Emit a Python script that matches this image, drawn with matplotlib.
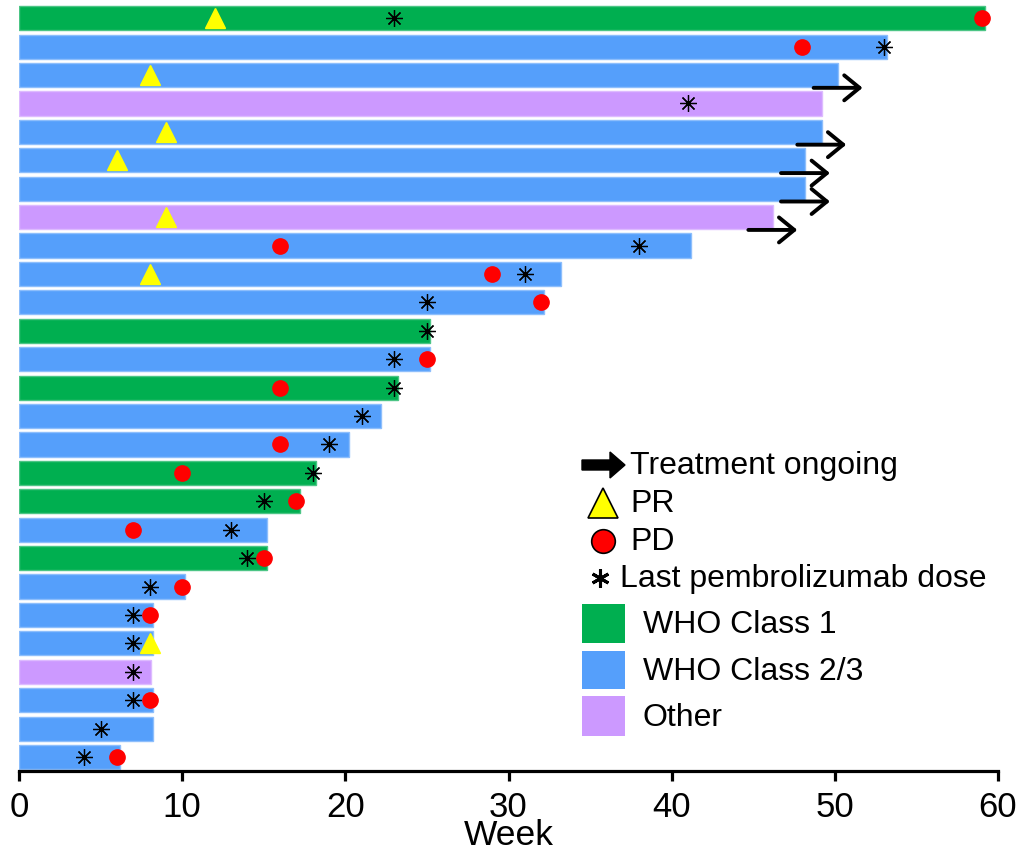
import matplotlib
matplotlib.use("Agg")
import matplotlib.pyplot as plt
from matplotlib.lines import Line2D
from matplotlib.patches import Polygon, Rectangle

plt.rcParams["font.family"] = ["Liberation Sans", "DejaVu Sans"]

# one row per patient, top to bottom
weeks_on_study = [59.2, 53.2, 50.2, 49.2, 49.2, 48.2, 48.2, 46.2, 41.2, 33.2, 32.2, 25.2, 25.2, 23.2,
                  22.2, 20.2, 18.2, 17.2, 15.2, 15.2, 10.2, 8.2, 8.2, 8.1, 8.2, 8.2, 6.2]
who_class = ["1", "2/3", "2/3", "Other", "2/3", "2/3", "2/3", "Other", "2/3", "2/3", "2/3", "1", "2/3", "1",
             "2/3", "2/3", "1", "1", "2/3", "1", "2/3", "2/3", "2/3", "Other", "2/3", "2/3", "2/3"]
pr_rows = [0, 2, 4, 5, 7, 9, 22]
pr_weeks = [12, 8, 9, 6, 9, 8, 8]
pd_rows = [0, 1, 8, 9, 10, 12, 13, 15, 16, 17, 18, 19, 20, 21, 24, 26]
pd_weeks = [59, 48, 16, 29, 32, 25, 16, 16, 10, 17, 7, 15, 10, 8, 8, 6]
dose_rows = [0, 1, 3, 8, 9, 10, 11, 12, 13, 14, 15, 16, 17, 18, 19, 20, 21, 22, 23, 24, 25, 26]
dose_weeks = [23, 53, 41, 38, 31, 25, 25, 23, 23, 21, 19, 18, 15, 13, 14, 8, 7, 7, 7, 7, 5, 4]
ongoing_rows = [2, 4, 5, 6, 7]

class_colors = {"1": "#00AF50", "2/3": "#559FFB", "Other": "#CC99FF"}
class_edges = {"1": "#4CC585", "2/3": "#8DBEFC", "Other": "#DDBBFF"}
class_labels = {"1": "WHO Class 1", "2/3": "WHO Class 2/3", "Other": "Other"}

W, H = 1021, 854
fig = plt.figure(figsize=(W / 100, H / 100), dpi=100)
ax = fig.add_axes([19 / W, 82 / H, 979 / W, 767 / H])

rows = list(range(len(weeks_on_study)))
ax.barh(rows, weeks_on_study, height=0.85,
        color=[class_colors[c] for c in who_class],
        edgecolor=[class_edges[c] for c in who_class], linewidth=1.0, zorder=2)

ax.plot(pr_weeks, pr_rows, ls="none", marker="^", ms=14, mfc="#FFFF00", mec="#FFFF00", zorder=4)
ax.plot(pd_weeks, pd_rows, ls="none", marker="o", ms=11, mfc="#FF0000", mec="#FF0000", zorder=4)
ax.plot(dose_weeks, dose_rows, ls="none", marker=(8, 2, 0), ms=12, mec="black", mew=0.9, zorder=5)

for r in ongoing_rows:
    end = weeks_on_study[r]
    ax.annotate("", xy=(end + 1.5, r + 0.45), xytext=(end - 1.5, r + 0.45),
                arrowprops=dict(arrowstyle="->,head_length=0.55,head_width=0.45",
                                lw=2.8, color="black", mutation_scale=20,
                                shrinkA=0, shrinkB=0), zorder=6)

ax.set_xlim(0, 60)
ax.set_ylim(26.49, -0.5)
ax.set_xticks(range(0, 61, 10))
ax.set_yticks([])
for side in ["top", "right", "left"]:
    ax.spines[side].set_visible(False)
ax.spines["bottom"].set_linewidth(2.3)
ax.tick_params(axis="x", length=7, width=2.3, labelsize=25, pad=7)
ax.set_xlabel("Week", fontsize=25.5, labelpad=-4)


def fpos(x, y):
    return x / W, 1 - y / H


# legend, drawn by hand in pixel positions
arrow_px = [(582, 461), (610, 461), (610, 453), (625, 466), (610, 479), (610, 471), (582, 471)]
fig.add_artist(Polygon([fpos(x, y) for x, y in arrow_px], closed=True, facecolor="black",
                       edgecolor="black", transform=fig.transFigure))
fig.add_artist(Line2D([603 / W], [1 - 504 / H], transform=fig.transFigure, marker="^", ms=21,
                      mfc="#FFFF00", mec="black", mew=1.2))
fig.add_artist(Line2D([603 / W], [1 - 542 / H], transform=fig.transFigure, marker="o", ms=17,
                      mfc="#FF0000", mec="black", mew=1.2))
fig.add_artist(Line2D([600 / W], [1 - 579 / H], transform=fig.transFigure, marker=(6, 2, 0), ms=13,
                      mec="black", mew=2.2))

text_rows = [("Treatment ongoing", 630, 466), ("PR", 630, 504), ("PD", 630, 542),
             ("Last pembrolizumab dose", 620, 579)]
for label, x, y in text_rows:
    fig.text(*fpos(x, y), label, fontsize=23, va="center", ha="left")

for cls, y0, y1 in [("1", 605, 644), ("2/3", 652, 690), ("Other", 697, 737)]:
    fig.add_artist(Rectangle(fpos(582, y1), 43 / W, (y1 - y0) / H, transform=fig.transFigure,
                             facecolor=class_colors[cls], edgecolor="none"))
    fig.text(*fpos(643, (y0 + y1) / 2 + 1), class_labels[cls], fontsize=23, va="center", ha="left")

fig.savefig("out.png", dpi=100)
